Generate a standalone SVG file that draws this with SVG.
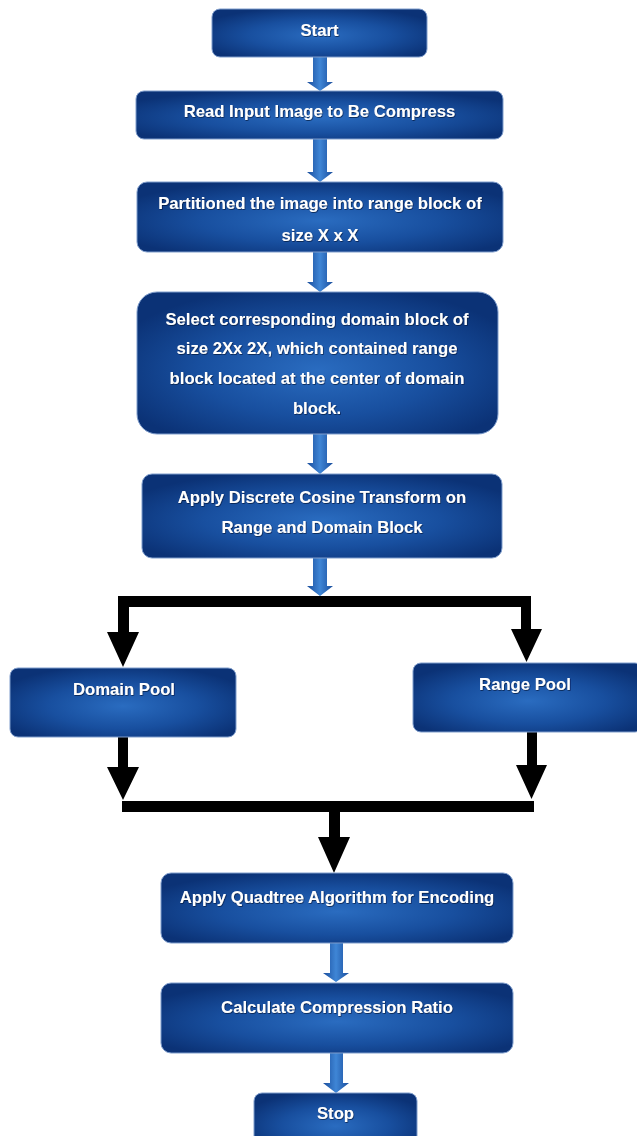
<svg xmlns="http://www.w3.org/2000/svg" width="637" height="1136" viewBox="0 0 637 1136">
<defs>
<radialGradient id="boxg" cx="50%" cy="55%" r="60%">
<stop offset="0" stop-color="#2a6cc0"/>
<stop offset="0.55" stop-color="#184f9f"/>
<stop offset="1" stop-color="#0b3276"/>
</radialGradient>
<linearGradient id="arrg" x1="0" y1="0" x2="1" y2="0">
<stop offset="0" stop-color="#1a4d9c"/>
<stop offset="0.5" stop-color="#3f86d6"/>
<stop offset="1" stop-color="#1a4d9c"/>
</linearGradient>
<filter id="ts" x="-10%" y="-30%" width="120%" height="160%">
<feDropShadow dx="0.6" dy="0.8" stdDeviation="0.4" flood-color="#001030" flood-opacity="0.8"/>
</filter>
</defs>
<style>
.box{fill:url(#boxg);stroke:#7f9dcc;stroke-width:1}
.t{font-family:"Liberation Sans",Arial,sans-serif;font-weight:bold;font-size:16.7px;fill:#ffffff;text-anchor:middle;filter:url(#ts)}
.ba{fill:url(#arrg)}
.k{fill:#000000}
</style>
<rect width="637" height="1136" fill="#ffffff"/>
<g id="connectors">
<polygon class="ba" points="313,57 327,57 327,82 333,82 320,91 307,82 313,82"/>
<polygon class="ba" points="313,139 327,139 327,172 333,172 320,182 307,172 313,172"/>
<polygon class="ba" points="313,252 327,252 327,282 333,282 320,292 307,282 313,282"/>
<polygon class="ba" points="313,434 327,434 327,463 333,463 320,474 307,463 313,463"/>
<polygon class="ba" points="313,558 327,558 327,586 333,586 320,596 307,586 313,586"/>
<path class="k" d="M118,596 H531 V629 H542 L526.5,662 L511,629 H521 V607 H129 V632 H139 L123,667 L107,632 H118 Z"/>
<path class="k" d="M118,737 H128 V767 H139 L123,800 L107,767 H118 Z"/>
<path class="k" d="M527,732 H537 V765 H547 L531.5,799 L516,765 H527 Z"/>
<path class="k" d="M122,801 H534 V812 H340 V837 H350 L334,873 L318,837 H329 V812 H122 Z"/>
<polygon class="ba" points="330,943 343,943 343,973 349,973 336,982 323,973 330,973"/>
<polygon class="ba" points="330,1053 343,1053 343,1083 349,1083 336,1093 323,1083 330,1083"/>
</g>
<g id="start"><rect class="box" x="212" y="9" width="215" height="48" rx="8"/><text class="t" x="319.5" y="36">Start</text></g>
<g id="read"><rect class="box" x="136" y="91" width="367" height="48" rx="8"/><text class="t" x="319.5" y="117">Read Input Image to Be Compress</text></g>
<g id="partition"><rect class="box" x="137" y="182" width="366" height="70" rx="10"/><text class="t" x="320" y="209">Partitioned the image into range block of</text><text class="t" x="320" y="241">size X x X</text></g>
<g id="select"><rect class="box" x="137" y="292" width="361" height="142" rx="20"/><text class="t" x="317" y="325">Select corresponding domain block of</text><text class="t" x="317" y="354">size 2Xx 2X, which contained range</text><text class="t" x="317" y="384">block located at the center of domain</text><text class="t" x="317" y="414">block.</text></g>
<g id="dct"><rect class="box" x="142" y="474" width="360" height="84" rx="10"/><text class="t" x="322" y="503">Apply Discrete Cosine Transform on</text><text class="t" x="322" y="533">Range and Domain Block</text></g>
<g id="domain"><rect class="box" x="10" y="668" width="226" height="69" rx="8"/><text class="t" x="124" y="695">Domain Pool</text></g>
<g id="range"><rect class="box" x="413" y="663" width="230" height="69" rx="8"/><text class="t" x="525" y="690">Range Pool</text></g>
<g id="quadtree"><rect class="box" x="161" y="873" width="352" height="70" rx="10"/><text class="t" x="337" y="903">Apply Quadtree Algorithm for Encoding</text></g>
<g id="ratio"><rect class="box" x="161" y="983" width="352" height="70" rx="10"/><text class="t" x="337" y="1013">Calculate Compression Ratio</text></g>
<g id="stop"><rect class="box" x="254" y="1093" width="163" height="60" rx="8"/><text class="t" x="335.5" y="1119">Stop</text></g>
</svg>
